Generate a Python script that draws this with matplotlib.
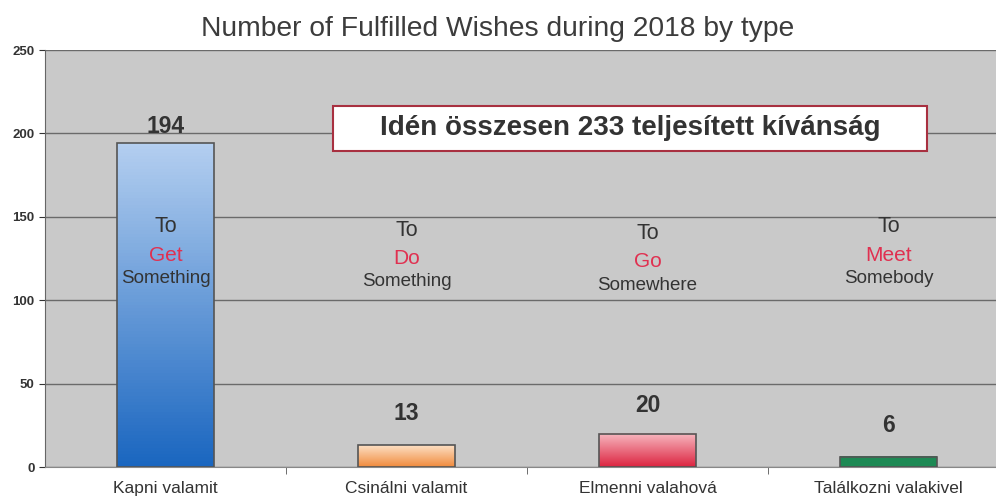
import matplotlib.pyplot as plt
import matplotlib.colors as mcolors
from matplotlib.patches import Rectangle
import numpy as np

plt.rcParams["font.family"] = ["Liberation Sans", "DejaVu Sans"]

categories = ["Kapni valamit", "Csinálni valamit", "Elmenni valahová", "Találkozni valakivel"]
values = [194, 13, 20, 6]
verbs = ["Get", "Do", "Go", "Meet"]
objects = ["Something", "Something", "Somewhere", "Somebody"]
label_y = [204, 32, 37, 25]
verb_y = [127, 125, 123, 127]

top_colors = ["#b4cff0", "#fde0c4", "#f7b8c0", "#1e8a55"]
bottom_colors = ["#1a66c0", "#f08a3c", "#dc2440", "#1e8a55"]

fig = plt.figure(figsize=(9.96, 4.97), dpi=100)
ax = fig.add_axes([45 / 996, 30 / 497, 951 / 996, 417 / 497])
ax.set_facecolor("#c9c9c9")

ax.set_yticks([0, 50, 100, 150, 200, 250])
ax.yaxis.grid(True, color="#6a6a6a", linewidth=1.0)
ax.set_axisbelow(True)
ax.tick_params(axis="y", labelsize=9.5, colors="#333333", length=4, direction="out")
for t in ax.get_yticklabels():
    t.set_fontweight("bold")

ax.set_xticks(range(len(categories)))
ax.set_xticklabels(categories, fontsize=12.5, color="#333333")
ax.set_xticks([0.5, 1.5, 2.5], minor=True)
ax.tick_params(axis="x", which="major", length=0, pad=10)
ax.tick_params(axis="x", which="minor", length=5, color="#555555")

for s in ["top", "right"]:
    ax.spines[s].set_visible(False)
ax.spines["left"].set_color("#666666")
ax.spines["bottom"].set_color("#888888")

width = 0.4
for i, v in enumerate(values):
    c1 = np.array(mcolors.to_rgb(top_colors[i]))
    c2 = np.array(mcolors.to_rgb(bottom_colors[i]))
    grad = np.linspace(0, 1, 100)[:, None, None]
    img = c1 * (1 - grad) + c2 * grad
    ax.imshow(img, extent=[i - width / 2, i + width / 2, 0, v], aspect="auto",
              origin="upper", zorder=2)
    ax.bar(i, v, width, fill=False, edgecolor="#555555", linewidth=1.2, zorder=3)
    ax.text(i, label_y[i], str(v), ha="center", va="center", fontsize=16.5,
            fontweight="bold", color="#333333", zorder=4)
    ax.text(i, verb_y[i] + 17, "To", ha="center", va="center", fontsize=15.5, color="#333333", zorder=4)
    ax.text(i, verb_y[i], verbs[i], ha="center", va="center", fontsize=15, color="#e03050", zorder=4)
    ax.text(i, verb_y[i] - 14, objects[i], ha="center", va="center", fontsize=13.5, color="#333333", zorder=4)

ax.set_xlim(-0.5, 3.446)
ax.set_ylim(0, 250)

# annotation box
ax.add_patch(Rectangle((0.695, 189.4), 3.16 - 0.695, 27, facecolor="white",
                       edgecolor="#a83040", linewidth=1.5, zorder=5))
ax.text(1.927, 203, "Idén összesen 233 teljesített kívánság", ha="center", va="center",
        fontsize=20, fontweight="bold", color="#333333", zorder=6)

fig.text(498 / 996, 1 - 29 / 497, "Number of Fulfilled Wishes during 2018 by type",
         ha="center", va="center", fontsize=20.3, color="#3c3c3c")

fig.savefig("out.png", dpi=100)
